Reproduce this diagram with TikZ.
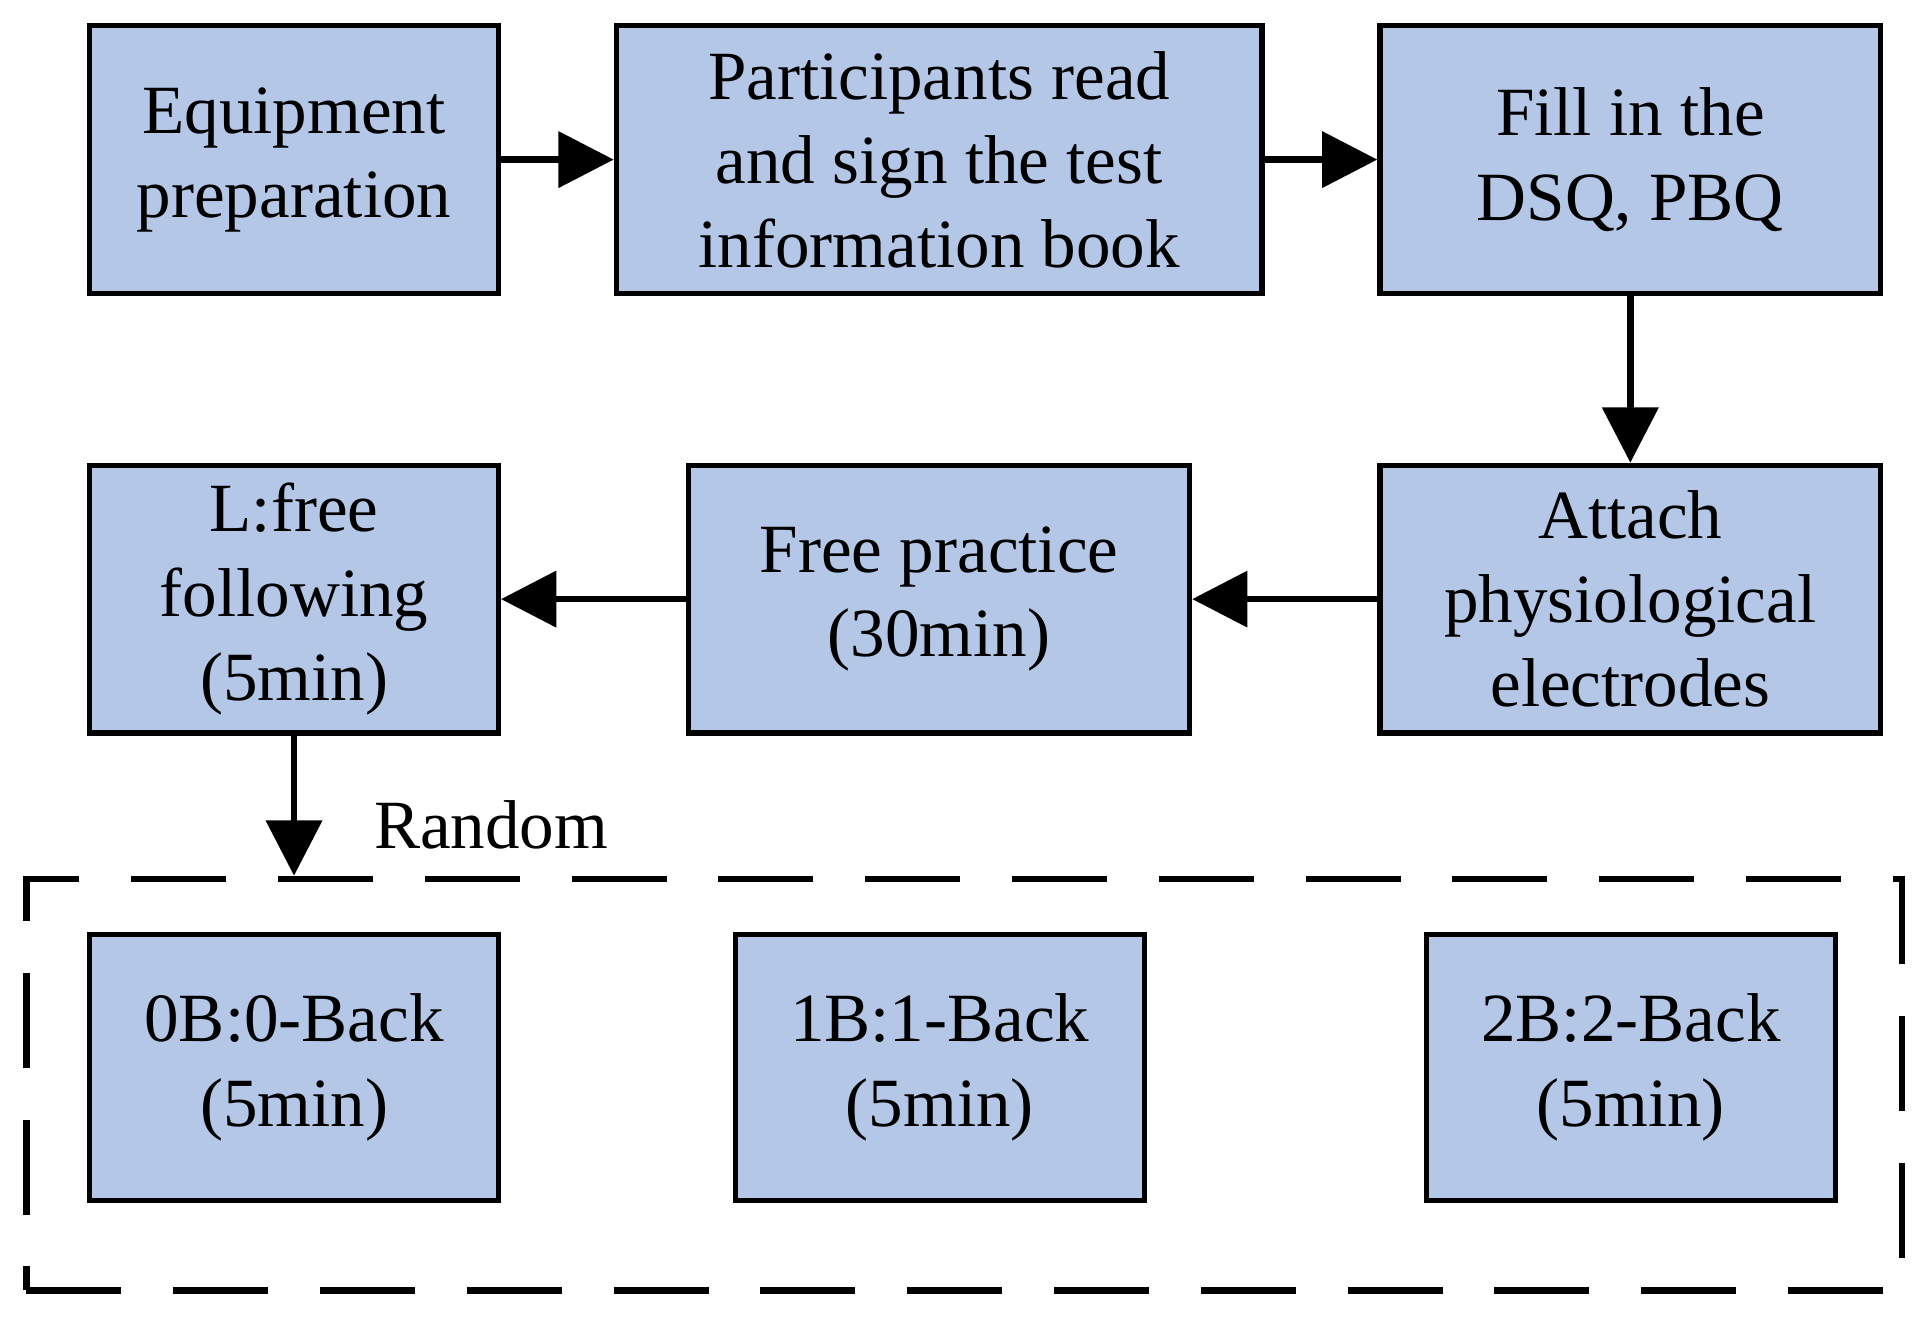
\documentclass[tikz,border=0pt]{standalone}
\usepackage{fontspec}
\setmainfont{Liberation Serif}
\usetikzlibrary{arrows.meta}
\definecolor{boxblue}{RGB}{180,199,231}
\begin{document}
\begin{tikzpicture}[x=0.01cm,y=-0.01cm,
  stepbox/.style={draw=black,line width=1.2pt,fill=boxblue,align=center,inner sep=0pt,
    font=\fontsize{16pt}{19.5pt}\selectfont},
  flow/.style={line width=1.5pt,-{Triangle[length=0.45cm,width=0.45cm]}}]
\useasboundingbox (0,0) rectangle (1568,1072);
\newcommand{\bx}[6]{\node[stepbox,minimum width=#4*0.01cm-#2*0.01cm,minimum height=#5*0.01cm-#3*0.01cm] (#1) at ({(#2+#4)/2},{(#3+#5)/2}) {#6};}
\bx{b1}{73}{21}{406}{239}{Equipment\\preparation}
\bx{b2}{502}{21}{1028}{239}{Participants read\\and sign the test\\information book}
\bx{b3}{1124}{21}{1532}{239}{Fill in the\\DSQ, PBQ}
\bx{b4}{1124}{379}{1532}{597}{Attach\\physiological\\electrodes}
\bx{b5}{561}{379}{969}{597}{Free practice\\(30min)}
\bx{b6}{73}{379}{406}{597}{L:free\\following\\(5min)}
\node[draw=black,line width=1.5pt,dash pattern=on 22pt off 12pt,minimum width=15.27cm,minimum height=3.35cm,inner sep=0pt] (grp) at (785.5,883.5) {};
\bx{b7}{73}{761}{406}{978}{0B:0-Back\\(5min)}
\bx{b8}{599}{761}{932}{978}{1B:1-Back\\(5min)}
\bx{b9}{1162}{761}{1495}{978}{2B:2-Back\\(5min)}
\node[font=\fontsize{16pt}{19pt}\selectfont] (rnd) at (400,672) {Random};
\draw[flow] (b1.east) -- (b2.west);
\draw[flow] (b2.east) -- (b3.west);
\draw[flow] (b3.south) -- (b4.north);
\draw[flow] (b4.west) -- (b5.east);
\draw[flow] (b5.west) -- (b6.east);
\draw[flow] (b6.south) -- (b6.south |- grp.north);
\end{tikzpicture}
\end{document}
